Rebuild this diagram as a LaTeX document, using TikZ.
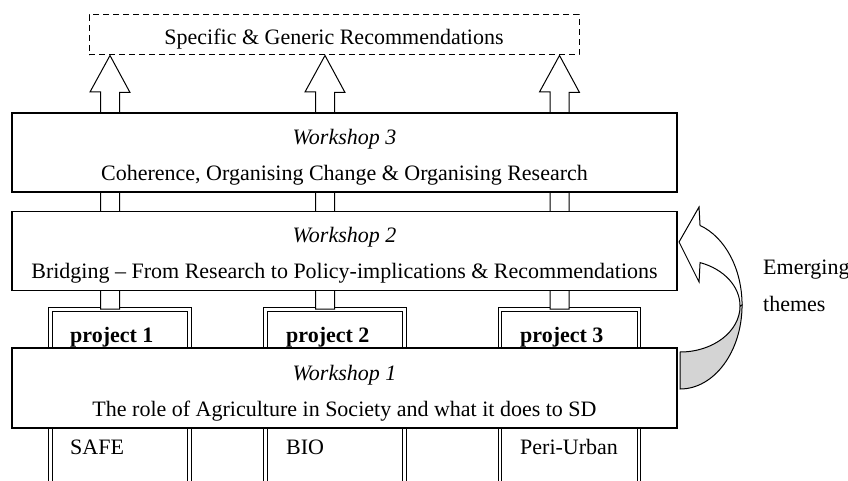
\documentclass[tikz,border=0pt]{standalone}
\usepackage{fontspec}
\setmainfont{Liberation Serif}
\usetikzlibrary{calc}
\definecolor{FillBack}{RGB}{212,212,212}

\begin{document}
\begin{tikzpicture}[
            x=1pt, y=-1pt,
            wbox/.style={draw, line width=1.1pt, fill=white, minimum width=665pt, minimum height=79pt, inner sep=0pt},
            wtxt/.style={anchor=base, inner sep=0pt, font=\fontsize{22}{26}\selectfont},
            recbox/.style={draw, dash pattern=on 6pt off 4pt, line width=1pt, minimum width=490pt, minimum height=40pt, text height=20pt, text depth=0pt, inner sep=0pt, font=\fontsize{22}{26}\selectfont},
            proj/.style={draw, double, double distance=2.5pt, line width=0.9pt, fill=white, minimum width=139pt, minimum height=215pt, anchor=north, inner sep=0pt},
            ptxt/.style={anchor=base west, inner sep=0pt, font=\fontsize{22}{26}\selectfont},
            etxt/.style={anchor=west, align=left, inner sep=0pt, font=\fontsize{22}{37}\selectfont},
            blockarr/.style={draw, line width=1pt, fill=white, line join=miter},
            bendarr/.style={draw, line width=1pt, fill=white, line join=miter}
        ]
            \useasboundingbox (0,0) rectangle (848,481);
            \clip (0,0) rectangle (848,481);

            \node[recbox] (recs) at (334,35) {Specific \& Generic Recommendations};

            \node[proj] (p1) at (120,309)   {};
            \node[proj] (p2) at (335,309)   {};
            \node[proj] (p3) at (569.5,309) {};
            \node[ptxt] (p1t) at (70,342)  {\textbf{project 1}};
            \node[ptxt] (p2t) at (286,342) {\textbf{project 2}};
            \node[ptxt] (p3t) at (520,342) {\textbf{project 3}};
            \node[ptxt] (p1n) at (70,454)  {SAFE};
            \node[ptxt] (p2n) at (286,454) {BIO};
            \node[ptxt] (p3n) at (520,454) {Peri-Urban};

            % block arrows from the projects up to the recommendations
            \foreach \i in {1,2,3}{
                \coordinate (b\i) at ([xshift=-10pt]p\i.north);
                \coordinate (t\i) at (b\i |- recs.south);
                \draw[blockarr] (t\i) -- ++(20,37) -- ++(-10.5,0) -- ([xshift=9.5pt]b\i)
                    -- ([xshift=-9.5pt]b\i) -- ++(0,-217) -- ++(-10.5,0) -- cycle;
            }

            \node[wbox] (w3) at (344.5,152.5) {};
            \node[wbox] (w2) at (344.5,251) {};
            \node[wbox, minimum height=80pt] (w1) at (344.5,388) {};
            \node[wtxt] (w3t) at (344.5,145) {\textit{Workshop 3}};
            \node[wtxt] (w3s) at (344.5,181) {Coherence, Organising Change \& Organising Research};
            \node[wtxt] (w2t) at (344.5,242) {\textit{Workshop 2}};
            \node[wtxt] (w2s) at (344.5,278) {Bridging -- From Research to Policy-implications \& Recommendations};
            \node[wtxt] (w1t) at (344.5,380) {\textit{Workshop 1}};
            \node[wtxt] (w1s) at (344.5,416) {The role of Agriculture in Society and what it does to SD};

            % emerging themes: curved arrow from workshop 1 to workshop 2
            \coordinate (eb) at ([xshift=2.5pt,yshift=-1pt]w1.east);
            \coordinate (et) at ([xshift=1.5pt,yshift=9pt]w2.east);
            \draw[line width=1pt, fill=FillBack] (eb) arc[start angle=-90, end angle=0, x radius=62pt, y radius=84pt]
                -- ++(-2,1) arc[start angle=0, end angle=-90, x radius=60pt, y radius=46pt] -- cycle;
            \draw[bendarr] ([xshift=62pt,yshift=84pt]eb) arc[start angle=0, end angle=71.2, x radius=62pt, y radius=84pt]
                -- ++(-1,-18.5) -- (et) -- ++(20,40) -- ++(1,-19.4)
                arc[start angle=70.5, end angle=0, x radius=60pt, y radius=46pt] -- cycle;
            \node[etxt] (emerg) at (763,286) {Emerging\\themes};
        \end{tikzpicture}
\end{document}
